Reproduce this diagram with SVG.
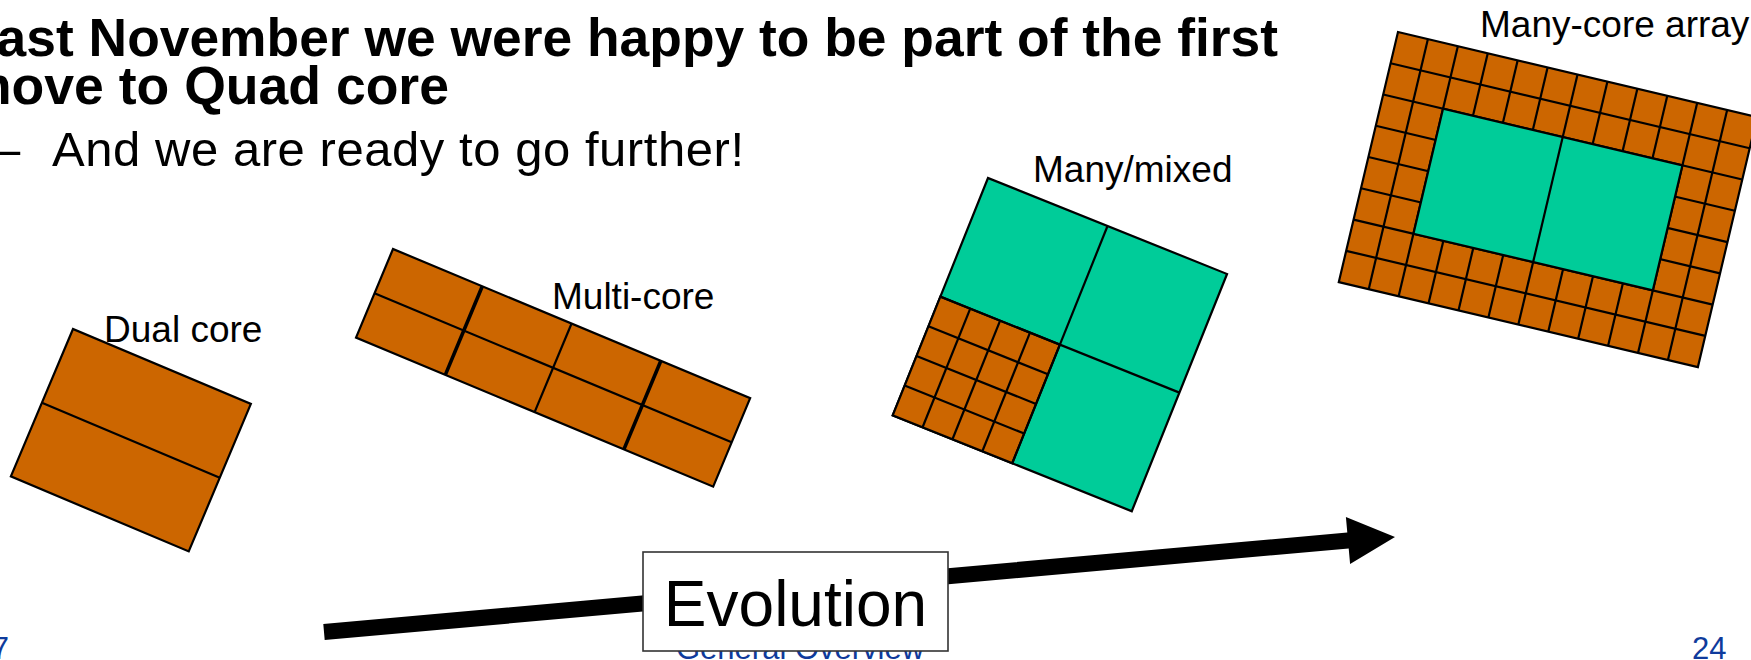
<svg xmlns="http://www.w3.org/2000/svg" width="1751" height="660" viewBox="0 0 1751 660">
  <style>
    .core { fill: #CC6600; stroke: #000; stroke-width: 2.2; stroke-linejoin: miter; }
    .fast { fill: #00CC99; stroke: #000; stroke-width: 2.2; }
    .grid { stroke: #000; stroke-width: 2.2; fill: none; }
    .thick { stroke: #000; stroke-width: 3.6; fill: none; }
    .sans { font-family: "Liberation Sans", Arial, Helvetica, sans-serif; }
    .title { font-size: 53px; font-weight: bold; fill: #000; }
    .bullet { font-size: 49px; fill: #000; }
    .label { font-size: 37px; fill: #000; }
    .foot { font-size: 31px; fill: #0F3B9C; }
    .tag { fill: #FFFFFF; stroke: #333; stroke-width: 1.6; }
  </style>

  <!-- slide footer -->
  <g id="footer" class="sans foot">
    <text x="9" y="659" text-anchor="end">7</text>
    <text x="676" y="659">General Overview</text>
    <text x="1692" y="659">24</text>
  </g>

  <!-- heading and bullet -->
  <g id="heading" class="sans">
    <text class="title" x="-36" y="56" textLength="1314" lengthAdjust="spacingAndGlyphs">Last November we were happy to be part of the first</text>
    <text class="title" x="-36" y="104" textLength="485" lengthAdjust="spacingAndGlyphs">move to Quad core</text>
    <text class="bullet" x="-7" y="166">–</text>
    <text class="bullet" x="52" y="166" textLength="692">And we are ready to go further!</text>
  </g>

  <!-- two cores -->
  <g id="dual-core">
    <g transform="translate(73,329) rotate(22.85)">
      <rect class="core" width="193" height="160"/>
      <line class="grid" x1="0" y1="80" x2="193" y2="80"/>
    </g>
    <text class="sans label" x="104" y="342">Dual core</text>
  </g>

  <!-- 2 x 4 cores -->
  <g id="multi-core">
    <g transform="translate(393,249) rotate(22.65)">
      <rect class="core" width="387" height="96"/>
      <line class="grid" x1="0" y1="48" x2="387" y2="48"/>
      <line class="thick" x1="96.75" y1="0" x2="96.75" y2="96"/>
      <line class="grid" x1="193.5" y1="0" x2="193.5" y2="96"/>
      <line class="thick" x1="290.25" y1="0" x2="290.25" y2="96"/>
    </g>
    <text class="sans label" x="552" y="309">Multi-core</text>
  </g>

  <!-- three big cores plus a 4 x 4 block of small ones -->
  <g id="many-mixed">
    <g transform="translate(988,178) rotate(21.88)">
      <rect class="fast" width="257.6" height="255.7"/>
      <rect class="core" x="0" y="127.85" width="128.8" height="127.85"/>
      <g class="grid">
        <line x1="128.8" y1="0" x2="128.8" y2="255.7"/>
        <line x1="0" y1="127.85" x2="257.6" y2="127.85"/>
        <line x1="32.2" y1="127.85" x2="32.2" y2="255.7"/>
        <line x1="64.4" y1="127.85" x2="64.4" y2="255.7"/>
        <line x1="96.6" y1="127.85" x2="96.6" y2="255.7"/>
        <line x1="0" y1="159.8" x2="128.8" y2="159.8"/>
        <line x1="0" y1="191.8" x2="128.8" y2="191.8"/>
        <line x1="0" y1="223.7" x2="128.8" y2="223.7"/>
      </g>
    </g>
    <text class="sans label" x="1033" y="182">Many/mixed</text>
  </g>

  <!-- 12 x 8 array of small cores framing two big ones -->
  <g id="many-core-array">
    <g transform="translate(1398,32) rotate(13.32)">
      <rect class="core" width="369" height="257"/>
      <g class="grid">
        <line x1="30.75" y1="0" x2="30.75" y2="257"/>
        <line x1="61.5" y1="0" x2="61.5" y2="257"/>
        <line x1="92.25" y1="0" x2="92.25" y2="257"/>
        <line x1="123" y1="0" x2="123" y2="257"/>
        <line x1="153.75" y1="0" x2="153.75" y2="257"/>
        <line x1="184.5" y1="0" x2="184.5" y2="257"/>
        <line x1="215.25" y1="0" x2="215.25" y2="257"/>
        <line x1="246" y1="0" x2="246" y2="257"/>
        <line x1="276.75" y1="0" x2="276.75" y2="257"/>
        <line x1="307.5" y1="0" x2="307.5" y2="257"/>
        <line x1="338.25" y1="0" x2="338.25" y2="257"/>
        <line x1="0" y1="32.125" x2="369" y2="32.125"/>
        <line x1="0" y1="64.25" x2="369" y2="64.25"/>
        <line x1="0" y1="96.375" x2="369" y2="96.375"/>
        <line x1="0" y1="128.5" x2="369" y2="128.5"/>
        <line x1="0" y1="160.625" x2="369" y2="160.625"/>
        <line x1="0" y1="192.75" x2="369" y2="192.75"/>
        <line x1="0" y1="224.875" x2="369" y2="224.875"/>
      </g>
      <rect class="fast" x="61.5" y="64.25" width="246" height="128.5"/>
      <line class="grid" x1="184.5" y1="64.25" x2="184.5" y2="192.75"/>
    </g>
    <text class="sans label" x="1480" y="37">Many-core array</text>
  </g>

  <!-- evolution arrow -->
  <g id="connectors">
    <polygon fill="#000" points="323.3,624 1347.3,532.5 1345.9,517.1 1395,537 1350.1,563.9 1348.7,548.5 324.7,640"/>
  </g>

  <g id="evolution">
    <rect class="tag" x="643" y="552" width="305" height="99"/>
    <text class="sans" x="795.5" y="626" text-anchor="middle" font-size="64" fill="#000">Evolution</text>
  </g>
</svg>
